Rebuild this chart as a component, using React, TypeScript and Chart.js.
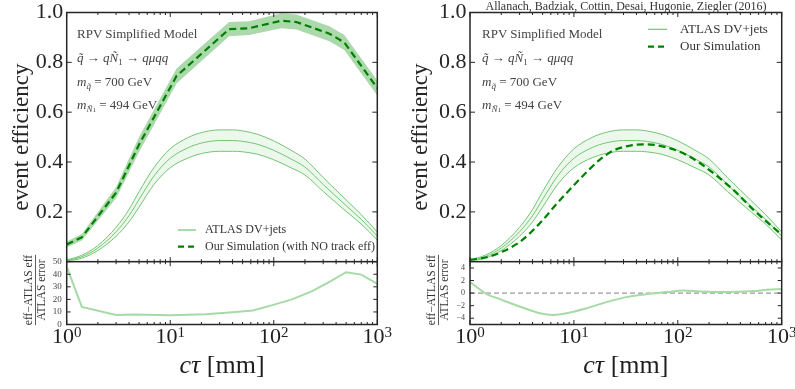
import React, { useEffect, useRef } from 'react';
import { Chart, registerables } from 'chart.js';

Chart.register(...registerables);

const SERIF = '"Liberation Serif", "DejaVu Serif", "Times New Roman", serif';

// ---------------- data ----------------
// ATLAS DV+jets event efficiency (central value and error), identical in both panels
const atlasCtau = [1, 1.4, 2, 3, 4, 5, 7, 10, 15, 20, 30, 40, 50, 70, 100, 150, 200, 300, 500, 700, 1000];
const atlasEff = [0.005, 0.02, 0.055, 0.12, 0.185, 0.25, 0.345, 0.415, 0.458, 0.476, 0.486, 0.486, 0.483, 0.471, 0.447, 0.41, 0.38, 0.31, 0.225, 0.17, 0.103];
const atlasErr = [0.002, 0.006, 0.01, 0.018, 0.025, 0.031, 0.034, 0.038, 0.041, 0.042, 0.043, 0.043, 0.042, 0.04, 0.038, 0.035, 0.032, 0.028, 0.023, 0.019, 0.016];

// Left panel: our simulation with NO track efficiency (central + band)
const noTrkCtau = [1, 1.4, 3, 5, 11.5, 37, 58, 118, 165, 345, 480, 1000];
const noTrkEff = [0.069, 0.098, 0.277, 0.47, 0.745, 0.933, 0.937, 0.967, 0.962, 0.915, 0.88, 0.697];
const noTrkLo = [0.057, 0.085, 0.255, 0.44, 0.715, 0.905, 0.91, 0.937, 0.932, 0.885, 0.85, 0.667];
const noTrkHi = [0.081, 0.111, 0.3, 0.5, 0.775, 0.962, 0.965, 0.997, 0.992, 0.945, 0.91, 0.727];

// Left panel pull: (eff - ATLAS eff) / ATLAS error
const pullNoTrkCtau = [1, 1.4, 3, 4.4, 10, 22, 40, 63, 97, 150, 235, 345, 500, 700, 1000];
const pullNoTrkVal = [46, 14, 7.6, 7.9, 7.4, 8.1, 9.7, 11.1, 15.4, 20, 26.5, 34, 41.6, 39.7, 32.4];

// Right panel: our simulation
const oursCtau = [1, 1.45, 1.94, 3.03, 4.72, 6.82, 9.9, 13.3, 17.8, 24, 34.7, 50, 72.6, 113, 164, 343, 535, 1000];
const oursEff = [0.008, 0.018, 0.036, 0.08, 0.155, 0.232, 0.305, 0.36, 0.41, 0.446, 0.466, 0.471, 0.462, 0.435, 0.395, 0.288, 0.208, 0.108];

// Right panel pull
const pullCtau = [1, 1.45, 1.94, 3, 4.7, 6.3, 8.5, 13.3, 20.6, 32, 50, 78, 113, 164, 256, 343, 535, 720, 1000];
const pullVal = [1.76, -0.16, -0.96, -2.13, -3.2, -3.47, -3.2, -2.4, -1.44, -0.64, -0.16, 0.16, 0.43, 0.27, 0.16, 0.21, 0.32, 0.53, 0.64];

const zeroCtau = [1, 1000];
const zeroVal = [0, 0];

// axis ticks
const xMajorTicks = [1, 10, 100, 1000];
const xMinorTicks = [2, 3, 4, 5, 6, 7, 8, 9, 20, 30, 40, 50, 60, 70, 80, 90, 200, 300, 400, 500, 600, 700, 800, 900];
const effTicks = [0, 0.2, 0.4, 0.6, 0.8, 1.0];
const pullNoTrkTicks = [0, 10, 20, 30, 40, 50];
const pullTicks = [-4, -2, 0, 2, 4];

// ---------------- styling ----------------
const ATLAS_LINE = '#74c474';
const ATLAS_FILL = 'rgba(110,195,110,0.12)';
const BAND_FILL = 'rgba(46,160,46,0.4)';
const DASH_COLOR = '#008000';
const PULL_COLOR = '#a6daa6';
const FRAME = '#262626';

const pts = (xs: number[], ys: number[]) => xs.map((x, i) => ({ x, y: ys[i] }));

const makeFramePlugin = (majorLen: number, minorLen: number, yLen: number) => ({
  id: 'frame',
  afterDatasetsDraw(chart: any) {
    const { ctx, chartArea: a } = chart;
    const xs = chart.scales.x;
    const ys = chart.scales.y;
    ctx.save();
    ctx.strokeStyle = FRAME;
    ctx.lineWidth = 1;
    const seg = (x1: number, y1: number, x2: number, y2: number) => {
      ctx.beginPath();
      ctx.moveTo(x1, y1);
      ctx.lineTo(x2, y2);
      ctx.stroke();
    };
    xMajorTicks.forEach((v) => {
      const p = xs.getPixelForValue(v);
      seg(p, a.bottom, p, a.bottom - majorLen);
      seg(p, a.top, p, a.top + majorLen);
    });
    xMinorTicks.forEach((v) => {
      const p = xs.getPixelForValue(v);
      seg(p, a.bottom, p, a.bottom - minorLen);
      seg(p, a.top, p, a.top + minorLen);
    });
    ys.ticks.forEach((t: any) => {
      const p = ys.getPixelForValue(t.value);
      seg(a.left, p, a.left + yLen, p);
      seg(a.right, p, a.right - yLen, p);
    });
    ctx.lineWidth = 1.5;
    ctx.strokeRect(a.left, a.top, a.right - a.left, a.bottom - a.top);
    ctx.restore();
  },
});

type LegendItem = { label: string; color: string; width: number; dash: number[] };
const makeLegendPlugin = (items: LegendItem[], x: number, len: number, textX: number, y0: number, gap: number, size: number) => ({
  id: 'innerLegend',
  afterDatasetsDraw(chart: any) {
    const ctx = chart.ctx;
    ctx.save();
    ctx.font = `${size}px ${SERIF}`;
    ctx.textBaseline = 'middle';
    ctx.textAlign = 'left';
    items.forEach((it, i) => {
      const y = y0 + i * gap;
      ctx.strokeStyle = it.color;
      ctx.lineWidth = it.width;
      ctx.setLineDash(it.dash);
      ctx.beginPath();
      ctx.moveTo(x, y);
      ctx.lineTo(x + len, y);
      ctx.stroke();
      ctx.setLineDash([]);
      ctx.fillStyle = '#333';
      ctx.fillText(it.label, textX, y);
    });
    ctx.restore();
  },
});

const makeBottomPlugin = (fracX: number, fracY: number) => ({
  id: 'bottomLabels',
  afterDraw(chart: any) {
    const { ctx, chartArea: a } = chart;
    const xs = chart.scales.x;
    ctx.save();
    ctx.fillStyle = '#1e1e1e';
    ctx.textBaseline = 'alphabetic';
    ctx.textAlign = 'left';
    xMajorTicks.forEach((v) => {
      const p = xs.getPixelForValue(v);
      const exp = String(Math.round(Math.log10(v)));
      ctx.font = `22px ${SERIF}`;
      const w1 = ctx.measureText('10').width;
      ctx.font = `15px ${SERIF}`;
      const w2 = ctx.measureText(exp).width;
      const sx = p - (w1 + w2) / 2;
      ctx.font = `22px ${SERIF}`;
      ctx.fillText('10', sx, a.bottom + 18.5);
      ctx.font = `15px ${SERIF}`;
      ctx.fillText(exp, sx + w1, a.bottom + 12);
    });
    // axis title  c tau [mm]
    const cx = (a.left + a.right) / 2;
    const by = a.bottom + 48.5;
    ctx.font = `italic 26px ${SERIF}`;
    const wi = ctx.measureText('cτ').width;
    ctx.font = `26px ${SERIF}`;
    const wr = ctx.measureText(' [mm]').width;
    const sx = cx - (wi + wr) / 2;
    ctx.font = `italic 26px ${SERIF}`;
    ctx.fillText('cτ', sx, by);
    ctx.font = `26px ${SERIF}`;
    ctx.fillText(' [mm]', sx + wi, by);
    // fraction y label
    ctx.translate(fracX, fracY);
    ctx.rotate(-Math.PI / 2);
    ctx.font = `11.5px ${SERIF}`;
    ctx.textAlign = 'center';
    ctx.textBaseline = 'middle';
    ctx.fillStyle = '#333';
    const num = 'eff−ATLAS eff';
    const den = 'ATLAS error';
    const w = Math.max(ctx.measureText(num).width, ctx.measureText(den).width);
    ctx.fillText(num, 0, -6);
    ctx.fillText(den, 0, 7);
    ctx.strokeStyle = '#333';
    ctx.lineWidth = 0.8;
    ctx.beginPath();
    ctx.moveTo(-w / 2, 0.5);
    ctx.lineTo(w / 2, 0.5);
    ctx.stroke();
    ctx.restore();
  },
});

const xScale = { type: 'logarithmic', min: 1, max: 1000, display: false };

const fixAxis = (width: number, ticks: number[]) => ({
  afterBuildTicks: (s: any) => {
    s.ticks = ticks.map((v) => ({ value: v }));
  },
  afterFit: (s: any) => {
    s.width = width;
    s.paddingTop = 0;
    s.paddingBottom = 0;
  },
});

function mainConfig(datasets: any[], axisWidth: number, rightPad: number, titlePad: number, legend: any) {
  return {
    type: 'line',
    data: { datasets },
    options: {
      responsive: false,
      animation: false,
      layout: { autoPadding: false, padding: { left: 0, top: 12.5, right: rightPad, bottom: 0.3 } },
      plugins: { legend: { display: false }, tooltip: { enabled: false } },
      elements: { point: { radius: 0 } },
      scales: {
        x: xScale,
        y: {
          min: 0,
          max: 1,
          ...fixAxis(axisWidth, effTicks),
          grid: { display: false, drawTicks: false },
          border: { display: false },
          ticks: {
            padding: 3.5,
            color: '#262626',
            font: { family: SERIF, size: 22, lineHeight: 1 },
            callback: (v: number) => (Math.abs(v) < 1e-9 ? '' : v.toFixed(1)),
          },
          title: {
            display: true,
            text: 'event efficiency',
            color: '#262626',
            font: { family: SERIF, size: 23, lineHeight: 1.2 },
            padding: { top: titlePad, bottom: 0 },
          },
        },
      },
    },
    plugins: [makeFramePlugin(4.5, 2.5, 5), legend],
  };
}

function ratioConfig(datasets: any[], axisWidth: number, rightPad: number, ymin: number, ymax: number, ticks: number[], fontSize: number, fracX: number) {
  return {
    type: 'line',
    data: { datasets },
    options: {
      responsive: false,
      animation: false,
      layout: { autoPadding: false, padding: { left: 0, top: 11.7, right: rightPad, bottom: 64.5 } },
      plugins: { legend: { display: false }, tooltip: { enabled: false } },
      elements: { point: { radius: 0 } },
      scales: {
        x: xScale,
        y: {
          min: ymin,
          max: ymax,
          ...fixAxis(axisWidth, ticks),
          grid: { display: false, drawTicks: false },
          border: { display: false },
          ticks: {
            padding: 5,
            color: '#444',
            font: { family: SERIF, size: fontSize, lineHeight: 1 },
            callback: (v: number) => String(Math.round(v)).replace('-', '−'),
          },
        },
      },
    },
    plugins: [makeFramePlugin(4.5, 2.5, 4), makeBottomPlugin(fracX, 40)],
  };
}

const atlasHi = atlasEff.map((v, i) => v + atlasErr[i]);
const atlasLo = atlasEff.map((v, i) => v - atlasErr[i]);

const atlasSets = () => [
  { data: pts(atlasCtau, atlasHi), borderColor: ATLAS_LINE, borderWidth: 1, fill: '+1', backgroundColor: ATLAS_FILL, cubicInterpolationMode: 'monotone' },
  { data: pts(atlasCtau, atlasLo), borderColor: ATLAS_LINE, borderWidth: 1, fill: false, cubicInterpolationMode: 'monotone' },
  { data: pts(atlasCtau, atlasEff), borderColor: ATLAS_LINE, borderWidth: 1, fill: false, cubicInterpolationMode: 'monotone' },
];

function useChart(ref: React.RefObject<HTMLCanvasElement>, make: () => any) {
  useEffect(() => {
    const chart = new Chart(ref.current as HTMLCanvasElement, make());
    return () => chart.destroy();
  }, []);
}

const canvasStyle = (left: number, top: number, w: number, h: number): React.CSSProperties => ({
  position: 'absolute', left, top, width: w, height: h,
});

const subStyle: React.CSSProperties = { fontSize: 9, verticalAlign: 'baseline', position: 'relative', top: 3, lineHeight: 0 };

function Annotation({ left }: { left: number }) {
  const line = (cy: number): React.CSSProperties => ({ position: 'absolute', left: 0, top: cy - 8, lineHeight: '16px', whiteSpace: 'nowrap' });
  return (
    <div style={{ position: 'absolute', left, top: 0, fontFamily: SERIF, fontSize: 13, color: '#444' }}>
      <div style={line(34)}>RPV Simplified Model</div>
      <div style={line(58)}>
        <i>q̃</i> → <i>q</i><i>Ñ</i><span style={subStyle}>1</span> → <i>qμqq</i>
      </div>
      <div style={line(82)}>
        <i>m</i><span style={subStyle}><i>q̃</i></span> = 700 GeV
      </div>
      <div style={line(105)}>
        <i>m</i><span style={subStyle}><i>Ñ</i><span style={{ fontSize: 7 }}>1</span></span> = 494 GeV
      </div>
    </div>
  );
}

export default function App() {
  const lMain = useRef<HTMLCanvasElement>(null);
  const lRatio = useRef<HTMLCanvasElement>(null);
  const rMain = useRef<HTMLCanvasElement>(null);
  const rRatio = useRef<HTMLCanvasElement>(null);

  useChart(lMain, () =>
    mainConfig(
      [
        { data: pts(noTrkCtau, noTrkEff), borderColor: DASH_COLOR, borderWidth: 2.2, borderDash: [7, 4], fill: false },
        { data: pts(noTrkCtau, noTrkHi), borderWidth: 0, borderColor: 'rgba(0,0,0,0)', fill: '+1', backgroundColor: BAND_FILL },
        { data: pts(noTrkCtau, noTrkLo), borderWidth: 0, borderColor: 'rgba(0,0,0,0)', fill: false },
        ...atlasSets(),
      ],
      66.7, 17.7, 8,
      makeLegendPlugin(
        [
          { label: 'ATLAS DV+jets', color: ATLAS_LINE, width: 1.2, dash: [] },
          { label: 'Our Simulation (with NO track eff)', color: DASH_COLOR, width: 2.2, dash: [6, 4] },
        ],
        178, 18, 205, 230, 16.7, 12,
      ),
    ),
  );
  useChart(rMain, () =>
    mainConfig(
      [
        { data: pts(oursCtau, oursEff), borderColor: DASH_COLOR, borderWidth: 2.2, borderDash: [7, 4], fill: false, cubicInterpolationMode: 'monotone' },
        ...atlasSets(),
      ],
      70, 13.3, 7,
      makeLegendPlugin(
        [
          { label: 'ATLAS DV+jets', color: ATLAS_LINE, width: 1.2, dash: [] },
          { label: 'Our Simulation', color: DASH_COLOR, width: 2.2, dash: [6, 4] },
        ],
        248, 19, 280, 29.3, 17.4, 13,
      ),
    ),
  );
  useChart(lRatio, () =>
    ratioConfig(
      [{ data: pts(pullNoTrkCtau, pullNoTrkVal), borderColor: PULL_COLOR, borderWidth: 2, fill: false }],
      66.7, 17.7, 0, 50, pullNoTrkTicks, 9, 35,
    ),
  );
  useChart(rRatio, () =>
    ratioConfig(
      [
        { data: pts(pullCtau, pullVal), borderColor: PULL_COLOR, borderWidth: 2, fill: false, cubicInterpolationMode: 'monotone' },
        { data: pts(zeroCtau, zeroVal), borderColor: '#9a9a9a', borderWidth: 1.3, borderDash: [5, 3], fill: false },
      ],
      70, 13.3, -5, 5, pullTicks, 8, 38,
    ),
  );

  return (
    <div style={{ position: 'absolute', left: 0, top: 0, width: 795, height: 389, background: '#fff', overflow: 'hidden' }}>
      <canvas ref={lMain} width={395} height={262} style={canvasStyle(0, 0, 395, 262)} />
      <canvas ref={rMain} width={395} height={262} style={canvasStyle(400, 0, 395, 262)} />
      <canvas ref={lRatio} width={395} height={139} style={canvasStyle(0, 250, 395, 139)} />
      <canvas ref={rRatio} width={395} height={139} style={canvasStyle(400, 250, 395, 139)} />
      <Annotation left={77} />
      <Annotation left={482} />
      <div
        style={{
          position: 'absolute', left: 470, width: 312, top: 0, textAlign: 'center', fontFamily: SERIF,
          fontSize: 12, lineHeight: '12px', color: '#333', whiteSpace: 'nowrap',
        }}
      >
        Allanach, Badziak, Cottin, Desai, Hugonie, Ziegler (2016)
      </div>
    </div>
  );
}
